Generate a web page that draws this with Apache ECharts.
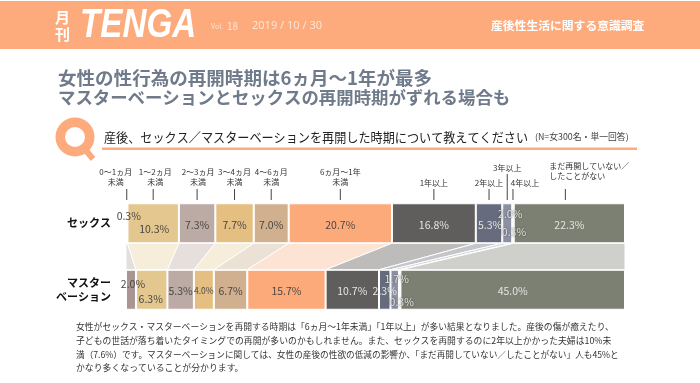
<!DOCTYPE html>
<html>
<head>
<meta charset="utf-8">
<style>
html, body { margin: 0; padding: 0; background: #fff; }
#container { width: 700px; height: 383px; }
</style>
<script src="https://cdn.jsdelivr.net/npm/echarts@6/dist/echarts.min.js"></script>
</head>
<body>
<div id="container"></div>
<script>
var rows = ['セックス', 'マスター\nベーション'];
var periods = ['0～1ヵ月\n未満', '1～2ヵ月\n未満', '2～3ヵ月\n未満', '3～4ヵ月\n未満', '4～6ヵ月\n未満', '6ヵ月～1年\n未満',
    '1年以上', '2年以上', '3年以上', '4年以上', 'まだ再開していない／\nしたことがない'];
var sexValues = [0.3, 10.3, 7.3, 7.7, 7.0, 20.7, 16.8, 5.3, 2.0, 0.3, 22.3];
var masturbationValues = [2.0, 6.3, 5.3, 4.0, 6.7, 15.7, 10.7, 2.3, 1.7, 0.3, 45.0];

var barColors = ['#a99592', '#e3c78f', '#bcaaa5', '#e5bf82', '#d0b08e', '#fdaa7b', '#5f5e5c', '#666c7d', '#8b90a3', '#a9abb0', '#7b8072'];
var linkColors = ['#e2dfdd', '#f6eeda', '#e7dfdc', '#f6edda', '#ece1d5', '#fde3d3', '#bdbcbb', '#c4c6cc', '#d3d5dc', '#dcdcde', '#cfd0cb'];
var labelColors = ['#4a4641', '#4a4641', '#4a4641', '#4a4641', '#4a4641', '#4a4641', '#e4e4e0', '#e4e4e0', '#e4e4e0', '#e4e4e0', '#e4e4e0'];

// small segments: the label has to sit off the centre, same as the original
var sexOffsets = [[2, -7], [1, 6], [0, 2], [0, 2], [0, 2], [0, 2], [0, 2], [1, 2], [3, -9], [1, 9], [0, 2]];
var masturbationOffsets = [[2, -6], [-1, 9], [0, 1], [0, 1], [0, 1], [0, 1], [0, 1], [0, 1], [2, -11], [2, 12], [0, 1]];

var FONT = '"Noto Sans CJK JP", "Noto Sans", sans-serif';
var BAR_H = 40;

var cumulative = function (list) {
    var sum = 0;
    return list.map(function (v) {
        var from = sum;
        sum += v;
        return [from, sum];
    });
};
var sexRanges = cumulative(sexValues);
var masturbationRanges = cumulative(masturbationValues);

var series = [];

// bands between the two bars
series.push({
    type: 'custom',
    silent: true,
    z: 1,
    data: periods.map(function (p, i) {
        return [sexRanges[i][0], sexRanges[i][1], masturbationRanges[i][0], masturbationRanges[i][1]];
    }),
    encode: { x: [0, 1, 2, 3] },
    renderItem: function (params, api) {
        var yTop = api.coord([0, 0])[1] + BAR_H / 2;
        var yBottom = api.coord([0, 1])[1] - BAR_H / 2;
        return {
            type: 'polygon',
            shape: {
                points: [
                    [api.coord([api.value(0), 0])[0], yTop],
                    [api.coord([api.value(1), 0])[0], yTop],
                    [api.coord([api.value(3), 0])[0], yBottom],
                    [api.coord([api.value(2), 0])[0], yBottom]
                ]
            },
            style: { fill: linkColors[params.dataIndex], stroke: '#fff', lineWidth: 1 }
        };
    }
});

// bars
periods.forEach(function (p, i) {
    var item = function (value, offset, size) {
        return {
            value: value,
            label: { offset: offset, fontSize: size }
        };
    };
    var tiny = i === 8 || i === 9;
    series.push({
        type: 'bar',
        name: p,
        stack: 'total',
        barWidth: BAR_H,
        z: 2,
        itemStyle: { color: barColors[i], borderColor: '#fff', borderWidth: 1 },
        label: {
            show: true,
            position: 'inside',
            formatter: function (d) { return d.value.toFixed(1) + '%'; },
            color: labelColors[i],
            fontFamily: FONT,
            textShadowColor: tiny ? 'rgba(40,40,40,0.7)' : 'transparent',
            textShadowBlur: tiny ? 2 : 0
        },
        data: [item(sexValues[i], sexOffsets[i], 10.5), item(masturbationValues[i], masturbationOffsets[i], i === 3 ? 8.5 : 10.5)]
    });
});

// period captions with their tick lines
var captionTop = [189, 189, 189, 189, 189, 189, 189, 189, 174, 189, 189];
var captionDx = [-11, 2, 1, 0, 0, 0, 0, 0, 0, 12, -20];
var captionY = [177, 177, 177, 177, 177, 177, 183, 183, 168, 183, 171];
var captionAlign = ['center', 'center', 'center', 'center', 'center', 'center', 'center', 'center', 'center', 'center', 'left'];
var tickDx = [0, 0, 0, 0, 0, 0, 0, 0, 0, 0, -4];
series.push({
    type: 'custom',
    silent: true,
    z: 3,
    data: periods.map(function (p, i) { return [(sexRanges[i][0] + sexRanges[i][1]) / 2, 0]; }),
    renderItem: function (params, api) {
        var i = params.dataIndex;
        var x = api.coord([api.value(0), 0])[0];
        return {
            type: 'group',
            children: [{
                type: 'line',
                shape: { x1: x + tickDx[i], y1: captionTop[i], x2: x + tickDx[i], y2: 200 },
                style: { stroke: '#444', lineWidth: 1 }
            }, {
                type: 'text',
                style: {
                    x: x + captionDx[i],
                    y: captionY[i],
                    text: periods[i],
                    align: captionAlign[i],
                    verticalAlign: 'middle',
                    fontFamily: FONT,
                    fontSize: 8,
                    lineHeight: 10.5,
                    fill: '#333'
                }
            }]
        };
    }
});

var body = [
    '女性がセックス・マスターベーションを再開する時期は「6ヵ月～1年未満」「1年以上」が多い結果となりました。産後の傷が癒えたり、',
    '子どもの世話が落ち着いたタイミングでの再開が多いのかもしれません。また、セックスを再開するのに2年以上かかった夫婦は10%未',
    '満（7.6%）です。マスターベーションに関しては、女性の産後の性欲の低減の影響か、「まだ再開していない／したことがない」人も45%と',
    'かなり多くなっていることが分かります。'
];
var bodyScale = [1.013, 1.017, 0.996, 1.02];

// text placed through x + scaleX so the width can be fitted to the original
var txt = function (x, y, text, size, fill, extra, scaleX) {
    var style = { x: 0, y: 0, text: text, fontFamily: FONT, fontSize: size, fill: fill, verticalAlign: 'middle' };
    for (var k in extra) style[k] = extra[k];
    return { type: 'text', x: x, y: y, scaleX: scaleX || 1, style: style, z: 10 };
};

var graphic = [
    { type: 'rect', shape: { x: 0, y: 1, width: 700, height: 48 }, style: { fill: '#fdab7c' } },
    txt(55, 17, '月', 15, '#fff', { fontWeight: 'bold' }),
    txt(55, 34, '刊', 15, '#fff', { fontWeight: 'bold' }),
    txt(80, 26, 'TENGA', 40, '#fff', { fontFamily: '"Liberation Sans"', fontStyle: 'italic', fontWeight: 'bold' }, 0.83),
    txt(211, 26, 'Vol.', 7, '#fde3d2'),
    txt(227, 26, '18', 10, '#fde3d2'),
    txt(252, 26, '2019 / 10 / 30', 11, '#fde3d2', { fontFamily: '"Noto Sans"' }),
    txt(491, 26, '産後性生活に関する意識調査', 11.8, '#fff', { fontWeight: 'bold' }),

    txt(58, 78, '女性の性行為の再開時期は6ヵ月～1年が最多', 18, '#6f7a8a', { fontWeight: 'bold' }, 1.03),
    txt(58, 97, 'マスターベーションとセックスの再開時期がずれる場合も', 17.4, '#6f7a8a', { fontWeight: 'bold' }),

    // Q mark
    { type: 'ring', shape: { cx: 75, cy: 137, r: 19.5, r0: 10 }, style: { fill: '#fdab7c' } },
    { type: 'line', shape: { x1: 84, y1: 148, x2: 93, y2: 159 }, style: { stroke: '#fdab7c', lineWidth: 6 } },
    txt(104, 137, '産後、セックス／マスターベーションを再開した時期について教えてください', 13, '#222', null, 0.932),
    txt(535, 137, '(N=女300名・単一回答)', 9, '#444', null, 0.98),
    { type: 'rect', shape: { x: 102, y: 147.5, width: 535, height: 2.5 }, style: { fill: '#fdab7c' } }
];
body.forEach(function (line, i) {
    graphic.push(txt(76, 327 + i * 13.7, line, 8.7, '#333', null, bodyScale[i]));
});

var dom = document.getElementById('container');
var myChart = echarts.init(dom, null, { renderer: 'canvas' });

var option = {
    animation: false,
    backgroundColor: '#fff',
    grid: { left: 126, top: 190, width: 499, height: 133 },
    xAxis: { type: 'value', min: 0, max: 100, show: false },
    yAxis: {
        type: 'category',
        inverse: true,
        data: rows,
        axisLine: { show: false },
        axisTick: { show: false },
        axisLabel: {
            margin: 15,
            align: 'right',
            fontFamily: FONT,
            fontSize: 11,
            fontWeight: 'bold',
            lineHeight: 14,
            color: '#111'
        }
    },
    graphic: graphic,
    series: series
};

myChart.setOption(option);
window.addEventListener('resize', myChart.resize);
</script>
</body>
</html>
